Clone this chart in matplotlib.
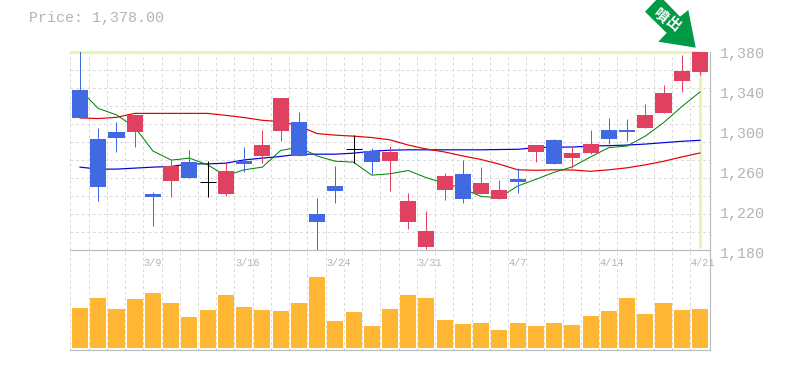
"""Candlestick chart with moving averages and a volume panel."""

import matplotlib
matplotlib.use("Agg")
import matplotlib.pyplot as plt
from matplotlib.patches import Polygon, Rectangle

# Candle values, oldest first
opens_top = [1341.7, 1292.3, 1299.3, 1316.5, 1236.8, 1265.0, 1269.0, 1248.6, 1260.0, 1270.4,
             1286.0, 1333.6, 1309.4, 1216.6, 1244.9, 1281.8, 1280.2, 1279.2, 1229.7, 1199.5,
             1255.0, 1257.0, 1247.9, 1240.8, 1251.7, 1286.0, 1291.0, 1278.0, 1287.0, 1301.0,
             1301.2, 1316.4, 1338.6, 1361.0, 1380.0]
body_bottom = [1313.4, 1243.9, 1293.3, 1299.3, 1233.8, 1250.0, 1253.0, 1248.6, 1236.8, 1267.0,
               1275.0, 1300.3, 1275.0, 1208.6, 1239.8, 1281.8, 1269.0, 1270.0, 1208.6, 1183.4,
               1240.8, 1231.8, 1236.8, 1231.8, 1248.7, 1279.0, 1267.0, 1273.0, 1278.0, 1292.0,
               1299.2, 1303.2, 1318.4, 1351.0, 1360.0]
highs = [1381.0, 1303.4, 1309.4, 1316.5, 1238.8, 1271.0, 1281.0, 1270.0, 1269.0, 1284.0,
         1301.0, 1333.6, 1319.5, 1232.8, 1265.0, 1296.3, 1283.0, 1285.0, 1237.8, 1219.7,
         1258.0, 1271.0, 1264.0, 1251.0, 1262.8, 1286.0, 1292.0, 1285.0, 1301.0, 1313.0,
         1312.0, 1327.5, 1347.0, 1377.0, 1382.0]
lows = [1313.4, 1229.7, 1279.2, 1284.2, 1204.5, 1233.8, 1253.0, 1233.8, 1234.8, 1259.0,
        1268.0, 1290.0, 1275.0, 1180.0, 1227.7, 1268.0, 1257.0, 1239.8, 1201.5, 1181.3,
        1230.8, 1227.7, 1236.8, 1231.8, 1237.6, 1269.0, 1267.0, 1263.0, 1277.0, 1287.0,
        1290.0, 1303.0, 1318.0, 1339.6, 1357.0]
# b = falling, r = rising, k = doji
kinds = list("bbbrbrbkrbrrbbbkbrrrrbrrbrbrrbbrrrr")

ma_short = [1341.7, 1323.0, 1316.5, 1304.0, 1280.0, 1270.8, 1272.8, 1266.0, 1255.0, 1261.0,
            1263.7, 1280.5, 1283.9, 1275.0, 1269.7, 1268.7, 1255.6, 1257.0, 1260.3, 1253.0,
            1247.5, 1242.0, 1234.0, 1233.0, 1244.6, 1251.4, 1258.5, 1264.0, 1274.0, 1283.4,
            1285.0, 1295.0, 1308.6, 1324.8, 1339.6]
ma_mid = [1313.4, 1312.8, 1314.0, 1318.0, 1318.0, 1318.0, 1318.0, 1318.0, 1316.0, 1313.8,
          1311.0, 1309.7, 1305.4, 1297.6, 1296.0, 1295.0, 1293.6, 1291.3, 1286.0, 1282.0,
          1279.0, 1275.0, 1271.4, 1266.7, 1261.0, 1260.5, 1261.0, 1260.8, 1259.5, 1261.0,
          1263.0, 1266.0, 1269.6, 1274.0, 1278.0]
ma_long = [1263.7, 1261.7, 1261.7, 1262.7, 1263.7, 1264.4, 1267.0, 1267.0, 1267.7, 1271.0,
           1272.8, 1274.5, 1276.8, 1276.8, 1276.8, 1277.8, 1279.8, 1280.8, 1281.2, 1281.2,
           1281.2, 1281.2, 1281.2, 1281.5, 1281.7, 1283.4, 1284.0, 1284.0, 1285.0, 1285.4,
           1286.0, 1287.0, 1288.4, 1289.8, 1290.8]

volumes = [120, 150, 117, 147, 165, 135, 93, 114, 159, 123, 114, 111, 135, 213, 81, 108, 66, 117,
           159, 150, 84, 72, 75, 54, 75, 66, 75, 69, 96, 111, 150, 102, 135, 114, 117]

date_pos = [3.5, 8.5, 13.5, 18.5, 23.5, 28.5, 33.5]
date_labels = ["3/9", "3/16", "3/24", "3/31", "4/7", "4/14", "4/21"]
price_ticks = [1180, 1220, 1260, 1300, 1340, 1380]

W, H = 785, 370
PX = 0.72  # one pixel in points at dpi 100
GRID = "#d9d9d9"
AXIS = "#bdbdbd"
TEXT = "#b4b4b4"
MONO = "Liberation Mono"
COLORS = {"b": "#4169e1", "r": "#e14160", "k": "#000000"}
DASH = (0, (2.8, 2.8))

fig = plt.figure(figsize=(W / 100, H / 100), dpi=100)


def make_axes(left, top, right, bottom):
    return fig.add_axes([left / W, 1 - bottom / H, (right - left) / W, (bottom - top) / H])


ax = make_axes(70, 52, 710, 250)
ax_vol = make_axes(70, 250, 710, 350)
xlim = (-0.55, 34.55)
n = len(kinds)

for a in (ax, ax_vol):
    a.set_xlim(*xlim)
    a.set_xticks([])
    a.set_yticks([])
    for s in a.spines.values():
        s.set_visible(False)
    a.patch.set_alpha(0)
    for k in range(n):
        a.axvline(k - 0.53, color=GRID, lw=PX, ls=DASH, zorder=1)

ax.set_ylim(1180, 1380)
ax_vol.set_ylim(-6, 294)

for k in range(1, 11):
    ax.axhline(1180 + k * 200 / 11, color=GRID, lw=PX, ls=DASH, zorder=1)

# highlight of the latest close / latest day
ax.axhline(1380, xmax=(34 - xlim[0]) / (xlim[1] - xlim[0]), color="#e6f5b0", lw=3 * PX, zorder=2,
           clip_on=False, solid_capstyle="butt")
ax.axvline(34, color="#e6f5b0", lw=3 * PX, ymin=0.01, zorder=2, clip_on=False, solid_capstyle="butt")

days = range(n)
ax.plot(days, ma_long, color="#0000e6", lw=PX * 1.2, zorder=3)
ax.plot(days, ma_mid, color="#e60000", lw=PX * 1.2, zorder=3)
ax.plot(days, ma_short, color="#008000", lw=PX, zorder=3)

for i in days:
    c = COLORS[kinds[i]]
    ax.vlines(i, lows[i], highs[i], color=c, lw=PX, zorder=4)
    if kinds[i] == "k":
        ax.hlines(opens_top[i], i - 0.44, i + 0.44, color=c, lw=PX, zorder=4)
    else:
        ax.add_patch(Rectangle((i - 0.44, body_bottom[i]), 0.88, opens_top[i] - body_bottom[i],
                               facecolor=c, edgecolor="none", zorder=5, clip_on=False))

ax_vol.bar(days, volumes, width=0.88, color="#ffb733", zorder=3)

for pos, label in zip(date_pos, date_labels):
    ax_vol.text(pos, 255, label, color=TEXT, family=MONO, fontsize=7.4, ha="left", va="center",
                zorder=2, clip_on=False)

for axis_y in (250, 349.5):
    fig.add_artist(plt.Line2D([70 / W, 710 / W], [1 - axis_y / H] * 2, color=AXIS, lw=PX * 1.2))
fig.add_artist(plt.Line2D([710 / W, 710 / W], [1 - 350 / H, 1 - 52 / H], color=AXIS, lw=PX * 1.2))

# price labels sit 40 px apart, one pixel under the plot's own scale
for value in price_ticks:
    y_px = 54 + (1380 - value)
    fig.text(720 / W, 1 - y_px / H, f"{value:,}", color=TEXT, family=MONO, fontsize=10.8,
             ha="left", va="center")

fig.text(29 / W, 1 - 18 / H, "Price: 1,378.00", color=TEXT, family=MONO, fontsize=10.8,
         ha="left", va="center")

# green marker arrow, drawn in pixel coordinates of the image
arrow_px = [(660, -4), (645, 11.7), (666.7, 33), (658.3, 41.7), (695.7, 47.7), (688.3, 10), (680, 16.7)]
fig.add_artist(Polygon([(x / W, 1 - y / H) for x, y in arrow_px], closed=True, facecolor="#009944",
                       edgecolor="none", transform=fig.transFigure))
for ch, cx, cy in [("噴", 660.7, 15), ("出", 672.7, 24)]:
    fig.text(cx / W, 1 - cy / H, ch, color="white", family=["Noto Sans CJK JP", "DejaVu Sans"],
             fontsize=10.5, fontweight="bold", rotation=-40, rotation_mode="anchor",
             ha="center", va="center")

fig.savefig("out.png", dpi=100)
